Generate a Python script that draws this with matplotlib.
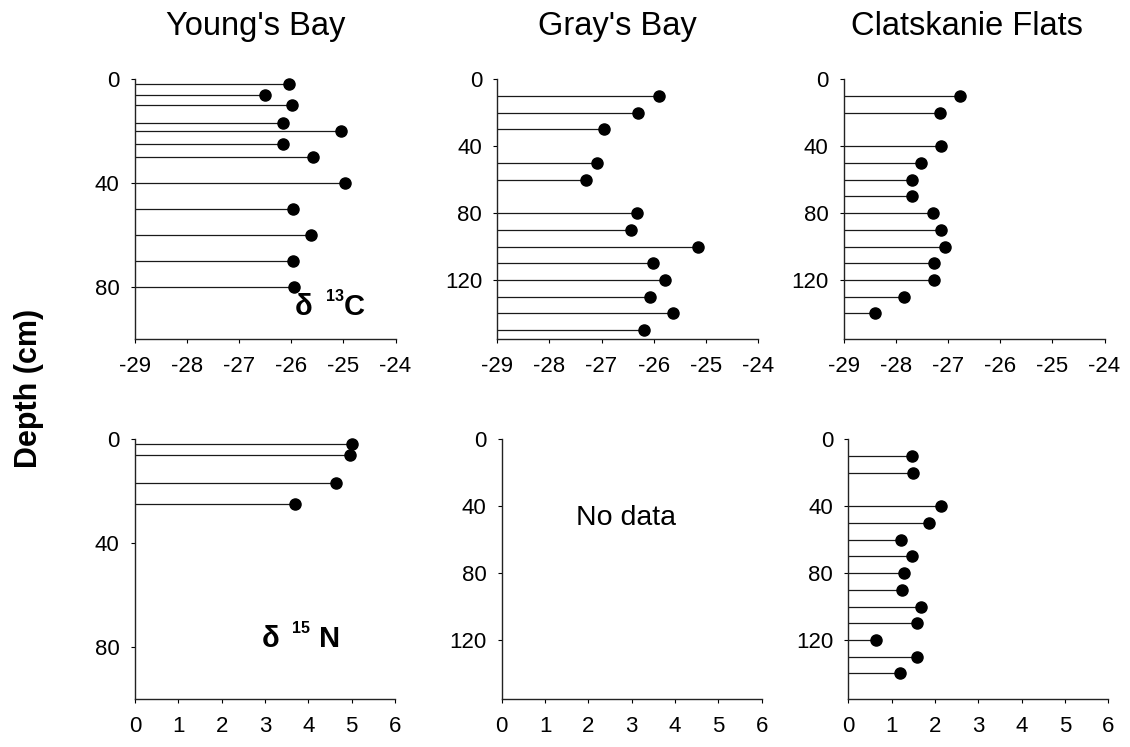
import matplotlib
matplotlib.use("Agg")
import matplotlib.pyplot as plt

plt.rcParams['font.family'] = ['Liberation Sans', 'DejaVu Sans']

# -----------------------------------------------------------
# DATA (depth in cm, isotope values in per mil)
# -----------------------------------------------------------
young_c_depth = [2, 6, 10, 17, 20, 25, 30, 40, 50, 60, 70, 80]
young_c = [-26.05, -26.5, -25.98, -26.15, -25.05, -26.15, -25.58, -24.96,
           -25.96, -25.62, -25.96, -25.95]

gray_c_depth = [10, 20, 30, 50, 60, 80, 90, 100, 110, 120, 130, 140, 150]
gray_c = [-25.89, -26.29, -26.95, -27.09, -27.30, -26.31, -26.44, -25.14,
          -26.02, -25.79, -26.07, -25.63, -26.19]

clat_c_depth = [10, 20, 40, 50, 60, 70, 80, 90, 100, 110, 120, 130, 140]
clat_c = [-26.77, -27.16, -27.13, -27.52, -27.70, -27.70, -27.30, -27.14,
          -27.06, -27.27, -27.27, -27.84, -28.41]

young_n_depth = [2, 6, 17, 25]
young_n = [5.01, 4.96, 4.64, 3.69]

clat_n_depth = [10, 20, 40, 50, 60, 70, 80, 90, 100, 110, 120, 130, 140]
clat_n = [1.46, 1.49, 2.15, 1.86, 1.21, 1.46, 1.29, 1.23, 1.68, 1.58,
          0.64, 1.59, 1.19]

sites = ["Young's Bay", "Gray's Bay", "Clatskanie Flats"]
c_ticks = [-29, -28, -27, -26, -25, -24]
n_ticks = [0, 1, 2, 3, 4, 5, 6]

W, H = 1130, 747


def add_ax(fig, left, right, top, bottom):
    return fig.add_axes([left / W, 1 - bottom / H, (right - left) / W, (bottom - top) / H])


def style(ax, xlim, xticks, ylim, yticks):
    ax.set_xlim(*xlim)
    ax.set_ylim(ylim[1], ylim[0])
    ax.set_xticks(xticks)
    ax.set_yticks(yticks)
    ax.set_xticklabels([str(t) for t in xticks])
    for s in ['top', 'right']:
        ax.spines[s].set_visible(False)
    for s in ['left', 'bottom']:
        ax.spines[s].set_linewidth(1.0)
        ax.spines[s].set_color('#222222')
    ax.tick_params(axis='x', direction='out', length=3, width=0.8, labelsize=16, pad=9)
    ax.tick_params(axis='y', direction='out', length=3, width=0.8, labelsize=16, pad=8)


def lollipop(ax, depth, vals, xmin):
    ax.hlines(depth, xmin, vals, color='#1a1a1a', lw=0.9, zorder=2)
    ax.plot(vals, depth, 'o', color='black', ms=8, zorder=3, clip_on=False)


fig = plt.figure(figsize=(W / 100, H / 100), dpi=100)

# -----------------------------------------------------------
# TOP ROW: d13C
# -----------------------------------------------------------
ax1 = add_ax(fig, 135, 395.5, 79.3, 339)
style(ax1, (-29, -24), c_ticks, (0, 100), [0, 40, 80])
lollipop(ax1, young_c_depth, young_c, -29)

ax2 = add_ax(fig, 497.3, 757.8, 79.3, 339)
style(ax2, (-29, -24), c_ticks, (0, 155.3), [0, 40, 80, 120])
lollipop(ax2, gray_c_depth, gray_c, -29)

ax3 = add_ax(fig, 844, 1104.5, 79.3, 339)
style(ax3, (-29, -24), c_ticks, (0, 155.3), [0, 40, 80, 120])
lollipop(ax3, clat_c_depth, clat_c, -29)

# -----------------------------------------------------------
# BOTTOM ROW: d15N
# -----------------------------------------------------------
ax4 = add_ax(fig, 135, 395, 439.3, 699.3)
style(ax4, (0, 6), n_ticks, (0, 100), [0, 40, 80])
lollipop(ax4, young_n_depth, young_n, 0)

ax5 = add_ax(fig, 501.7, 761.7, 439.3, 699.3)
style(ax5, (0, 6), n_ticks, (0, 155.5), [0, 40, 80, 120])
ax5.text(2.88, 47, "No data", fontsize=20.5, ha='center', va='center')

ax6 = add_ax(fig, 848.3, 1108.3, 439.3, 699.3)
style(ax6, (0, 6), n_ticks, (0, 155.5), [0, 40, 80, 120])
lollipop(ax6, clat_n_depth, clat_n, 0)

# isotope labels
ax1.text(-25.93, 90.6, "\u03b4", fontsize=21, fontweight='bold', ha='left', va='baseline')
ax1.text(-25.33, 85.2, "13", fontsize=11.5, fontweight='bold', ha='left', va='baseline')
ax1.text(-25.0, 90.6, "C", fontsize=21, fontweight='bold', ha='left', va='baseline')

ax4.text(2.93, 79.8, "\u03b4", fontsize=21, fontweight='bold', ha='left', va='baseline')
ax4.text(3.62, 74.6, "15", fontsize=11.5, fontweight='bold', ha='left', va='baseline')
ax4.text(4.25, 79.8, "N", fontsize=21, fontweight='bold', ha='left', va='baseline')

# site titles
for name, cx in zip(sites, [256, 617, 967]):
    fig.text(cx / W, 1 - 35 / H, name, fontsize=23.5, ha='center', va='baseline')

fig.text(29 / W, 1 - 388 / H, "Depth (cm)", fontsize=22, fontweight='bold',
         rotation=90, ha='center', va='center')

fig.savefig("out.png", dpi=100)
